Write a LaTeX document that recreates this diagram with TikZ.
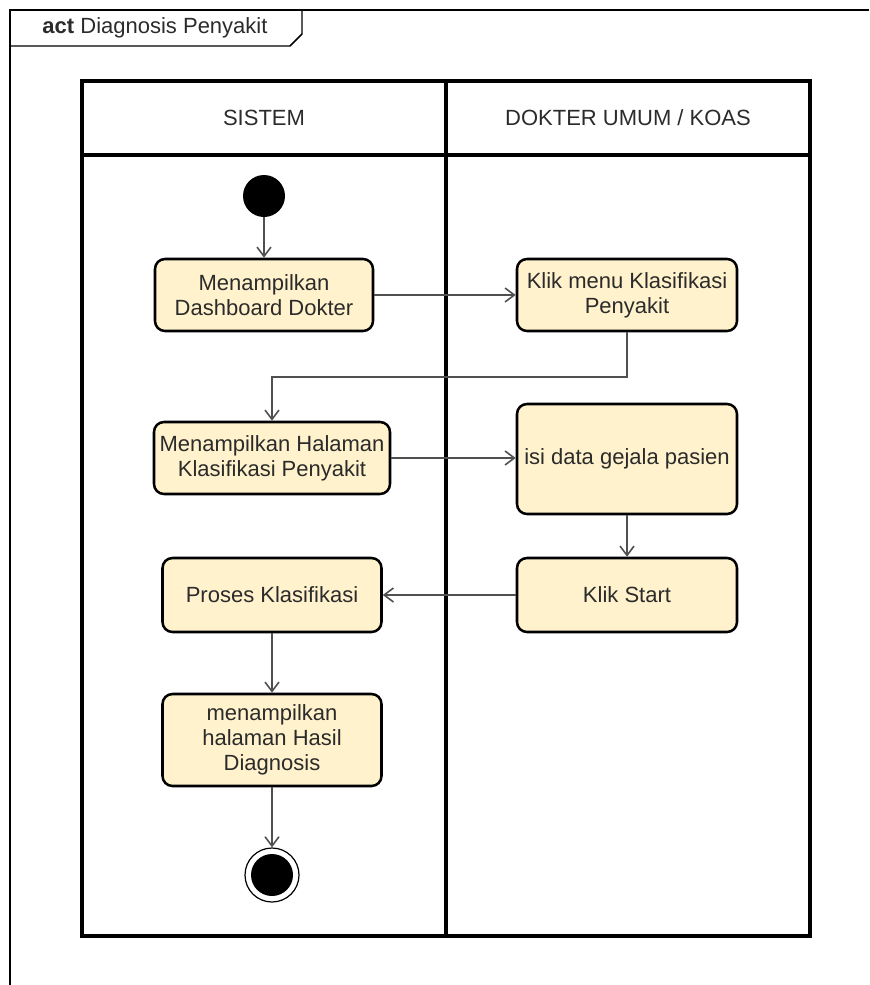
\documentclass[tikz,border=0pt]{standalone}
\usepackage{fontspec}
\setmainfont{Liberation Sans}
\usetikzlibrary{arrows.meta}
\definecolor{actfill}{HTML}{FFF2CC}
\definecolor{ink}{HTML}{2B2B2B}
\definecolor{flow}{HTML}{505050}
\begin{document}
\begin{tikzpicture}[x=0.75pt,y=-0.75pt,
  activity/.style={draw=black, line width=1.9pt, fill=actfill, rounded corners=7.5pt,
    align=center, font=\fontsize{16.5}{18.75}\selectfont, text=ink, inner sep=2pt},
  flowline/.style={draw=flow, line width=1.2pt,
    -{Straight Barb[length=7pt,width=10.5pt]}},
  lanetitle/.style={font=\fontsize{16.5}{18.75}\selectfont, text=ink},
  lane/.style={line width=2.3pt, draw=black}]
\useasboundingbox (0,0) rectangle (869,985);

% activity frame and its name tab
\draw[line width=1.1pt] (869,10) -- (10,10) -- (10,985);
\draw[line width=1.1pt] (10,46) -- (290,46) -- (302,34) -- (302,10);
\node[lanetitle, anchor=center] (frametitle) at (155,28) {\textbf{act} Diagnosis Penyakit};

% swimlanes
\draw[lane] (82,81) rectangle (810,936);
\draw[lane] (82,155) -- (810,155);
\draw[lane] (446,81) -- (446,936);
\node[lanetitle] (lsys) at (264,118) {SISTEM};
\node[lanetitle] (ldoc) at (628,118) {DOKTER UMUM / KOAS};

% initial node
\node[circle, fill=black, minimum size=31.5pt, inner sep=0pt] (start) at (264,196) {};

% actions
\node[activity, minimum width=163.5pt, minimum height=54pt] (b1) at (264,295)
  {Menampilkan\\Dashboard Dokter};
\node[activity, minimum width=165pt, minimum height=54pt] (b2) at (627,295)
  {Klik menu Klasifikasi\\Penyakit};
\node[activity, minimum width=177pt, minimum height=54pt] (b3) at (272,458)
  {Menampilkan Halaman\\Klasifikasi Penyakit};
\node[activity, minimum width=165pt, minimum height=82.5pt] (b4) at (627,459)
  {isi data gejala pasien};
\node[activity, minimum width=165pt, minimum height=55.5pt] (b5) at (627,595)
  {Klik Start};
\node[activity, minimum width=164.25pt, minimum height=55.5pt] (b6) at (272,595)
  {Proses Klasifikasi};
\node[activity, minimum width=164.25pt, minimum height=69pt] (b7) at (272,740)
  {menampilkan\\halaman Hasil\\Diagnosis};

% final node
\node[circle, draw=black, line width=0.9pt, fill=white, minimum size=40.5pt, inner sep=0pt] (stop) at (272,875) {};
\fill[black] (stop.center) circle (15.75pt);

% control flow
\draw[flowline] (start) -- (b1.north);
\draw[flowline] (b1.east) -- (b1.east -| b2.west);
\draw[flowline] (b2.south) -- ++(0,45) -| (b3.north);
\draw[flowline] (b3.east) -- (b3.east -| b4.west);
\draw[flowline] (b4.south) -- (b5.north);
\draw[flowline] (b5.west) -- (b6.east);
\draw[flowline] (b6.south) -- (b7.north);
\draw[flowline] (b7.south) -- (stop.north);
\end{tikzpicture}
\end{document}
